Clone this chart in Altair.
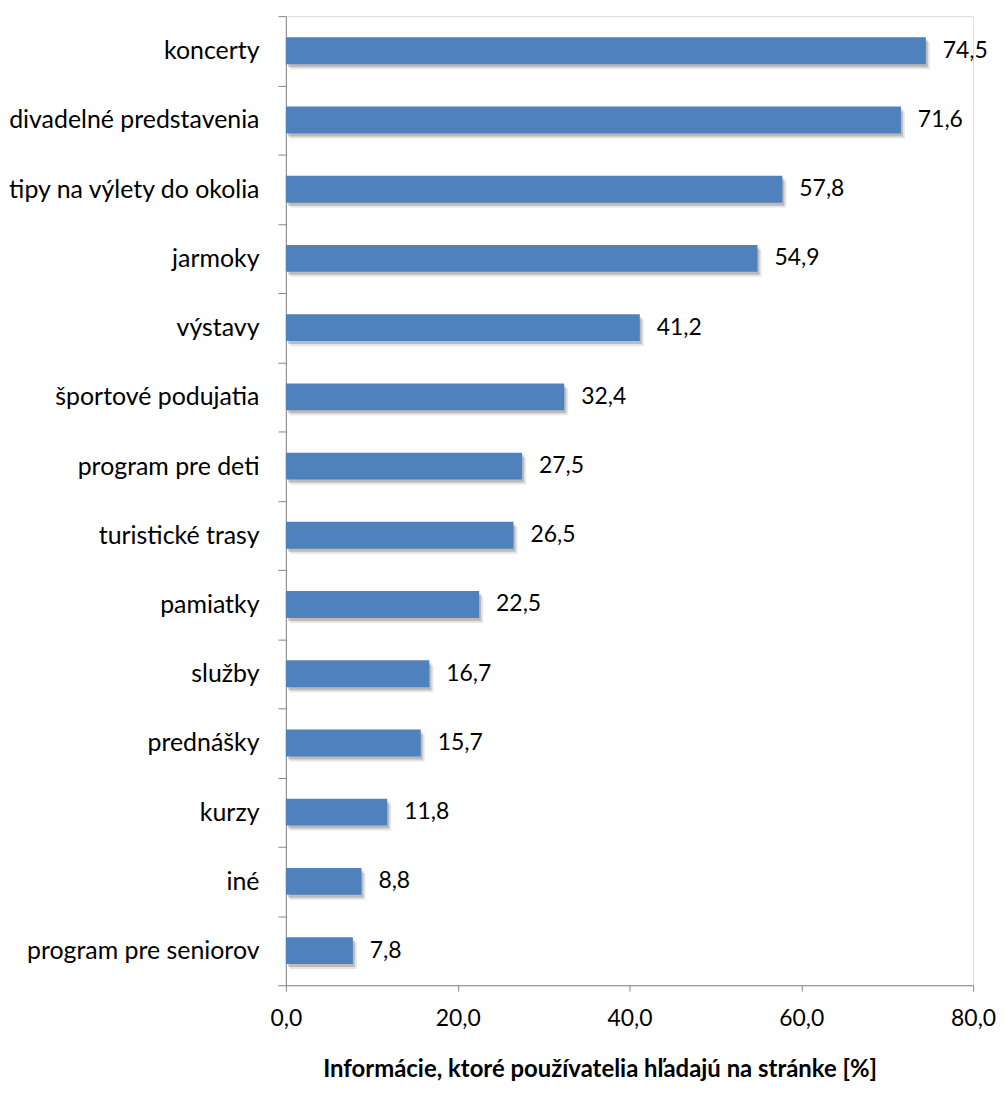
import altair as alt
import pandas as pd

categories = ["koncerty", "divadelné predstavenia", "tipy na výlety do okolia", "jarmoky",
              "výstavy", "športové podujatia", "program pre deti", "turistické trasy",
              "pamiatky", "služby", "prednášky", "kurzy", "iné", "program pre seniorov"]
values = [74.5, 71.6, 57.8, 54.9, 41.2, 32.4, 27.5, 26.5, 22.5, 16.7, 15.7, 11.8, 8.8, 7.8]
x_ticks = [0, 20, 40, 60, 80]
x_title = "Informácie, ktoré používatelia hľadajú na stránke [%]"

df = pd.DataFrame({"cat": categories, "val": values})

FONT = "Lato"

y_enc = alt.Y("cat:N", sort=categories, title=None,
              scale=alt.Scale(paddingInner=0, paddingOuter=0),
              axis=alt.Axis(tickBand="extent", tickSize=8, labelPadding=19,
                            domainColor="#868686", tickColor="#868686",
                            labelFont=FONT, labelFontSize=25, labelColor="#000000",
                            labelLimit=400))
x_enc = alt.X("val:Q", title=x_title,
              scale=alt.Scale(domain=[0, 80], nice=False),
              axis=alt.Axis(values=x_ticks, grid=False, tickSize=6, labelPadding=16,
                            domainColor="#868686", tickColor="#868686",
                            labelFont=FONT, labelFontSize=23, labelColor="#000000",
                            labelExpr="replace(format(datum.value, '.1f'), '.', ',')",
                            labelFlush=False,
                            titleFont=FONT, titleFontSize=24, titleFontWeight="bold",
                            titleColor="#000000", titleX=315, titleY=92,
                            titleAlign="center", titleBaseline="alphabetic"))

base = alt.Chart(df)

shadow2 = base.mark_bar(size=27, color="#000000", opacity=0.10, xOffset=4, yOffset=5).encode(x=x_enc, y=y_enc)
shadow = base.mark_bar(size=27, color="#000000", opacity=0.18, xOffset=2, yOffset=3).encode(x="val:Q", y=alt.Y("cat:N", sort=categories))
bars = base.mark_bar(size=27, color="#4F81BD").encode(x="val:Q", y=alt.Y("cat:N", sort=categories))
labels = base.transform_calculate(
    lab="replace(format(datum.val, '.1f'), '.', ',')"
).mark_text(align="left", baseline="middle", dx=17, font=FONT, fontSize=23, color="#000000").encode(
    x="val:Q", y=alt.Y("cat:N", sort=categories), text="lab:N")

chart = (shadow2 + shadow + bars + labels).properties(
    width=690, height=973,
    autosize=alt.AutoSizeParams(type="none"),
    padding={"left": 279, "top": 6, "right": 24, "bottom": 98},
).configure_view(stroke=None).configure(background="white")

chart.save("out.html", embed_options={"renderer": "svg", "actions": False})
